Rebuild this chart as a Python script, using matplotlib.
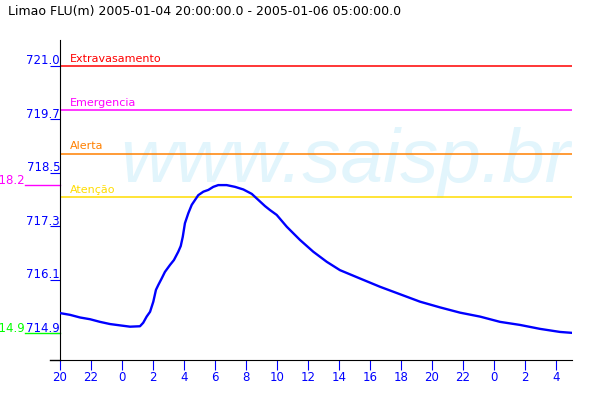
import matplotlib
matplotlib.use('Agg')
import matplotlib.pyplot as plt
from matplotlib.lines import Line2D

plt.rcParams['font.family'] = ['DejaVu Sans']

titulo = 'Limao FLU(m) 2005-01-04 20:00:00.0 - 2005-01-06 05:00:00.0'

# horas desde 2005-01-04 20:00 e nivel (m)
horas = [0.00, 0.65, 1.29, 1.94, 2.58, 3.23, 3.87, 4.52, 5.16, 5.37, 5.59, 5.81,
         6.02, 6.19, 6.34, 6.56, 6.77, 7.10, 7.35, 7.63, 7.79, 7.92, 8.06, 8.28,
         8.50, 8.71, 8.92, 9.25, 9.57, 9.89, 10.21, 10.75, 11.29, 11.83, 12.37,
         12.80, 13.23, 13.55, 13.98, 14.63, 15.48, 16.34, 17.21, 18.06, 19.35,
         20.65, 21.94, 23.23, 24.52, 25.81, 27.10, 28.39, 29.68, 30.97, 32.26, 33.0]
nivel = [715.36, 715.32, 715.26, 715.22, 715.16, 715.11, 715.08, 715.05, 715.06,
         715.14, 715.28, 715.39, 715.62, 715.89, 716.00, 716.15, 716.30, 716.46,
         716.57, 716.76, 716.89, 717.10, 717.41, 717.64, 717.83, 717.94, 718.05,
         718.13, 718.17, 718.24, 718.28, 718.28, 718.24, 718.18, 718.08, 717.94,
         717.80, 717.71, 717.60, 717.33, 717.03, 716.76, 716.53, 716.34, 716.15,
         715.96, 715.79, 715.62, 715.49, 715.37, 715.28, 715.16, 715.09, 715.00,
         714.93, 714.91]

# cotas de referencia
cotas_nome = ['Extravasamento', 'Emergencia', 'Alerta', 'Atenção']
cotas_valor = [721.0, 720.0, 719.0, 718.0]
cotas_cor = ['#ff0000', '#ff00ff', '#ff8000', '#ffdd00']

yticks = [714.9, 716.12, 717.34, 718.56, 719.78, 721.0]
ytick_labels = ['714.9', '716.1', '717.3', '718.5', '719.7', '721.0']
xticks = list(range(0, 33, 2))
xtick_labels = ['20', '22', '0', '2', '4', '6', '8', '10', '12', '14', '16',
                '18', '20', '22', '0', '2', '4']

max_label = '718.2'
min_label = '714.9'

azul = '#0000ff'

fig = plt.figure(figsize=(6, 4), dpi=100)
ax = fig.add_axes([60 / 600, 40 / 400, 511.5 / 600, 320 / 400])
ax.set_xlim(0, 33)
ax.set_ylim(714.29, 721.59)

# marca d'agua
ax.text(3.87, 718.35, 'www.saisp.br', family='Liberation Sans', style='italic',
        fontsize=55, color='#e2f5fc', ha='left', va='baseline', clip_on=True, zorder=0)

for nome, v, c in zip(cotas_nome, cotas_valor, cotas_cor):
    ax.axhline(v, color=c, lw=1.1, zorder=1)
    ax.annotate(nome, (0.65, v), xytext=(0, 3), textcoords='offset points',
                color=c, fontsize=8, va='baseline', ha='left')

ax.plot(horas, nivel, color=azul, lw=1.7, zorder=3)

for s in ['top', 'right']:
    ax.spines[s].set_visible(False)
ax.spines['left'].set_color('black')
ax.spines['bottom'].set_color('black')

ax.set_xticks(xticks)
ax.set_xticklabels(xtick_labels)
ax.tick_params(axis='x', direction='out', length=7.2, color=azul, labelcolor=azul,
               labelsize=8.5, pad=1)
ax.set_yticks(yticks)
ax.set_yticklabels([])
ax.tick_params(axis='y', direction='out', length=7.2, color=azul)

ytr = ax.get_yaxis_transform()
for v, lab in zip(yticks, ytick_labels):
    ax.annotate(lab, (0, v), xycoords=ytr, xytext=(0, 1), textcoords='offset points',
                color=azul, fontsize=8.5, ha='right', va='baseline', annotation_clip=False)

# extensao do eixo x para a esquerda
ax.add_line(Line2D([-10 / 511.5, 0], [0, 0], transform=ax.transAxes, color='black',
                   lw=1, clip_on=False))

# maximo e minimo
xm = -35 / 511.5
vmax = max(nivel)
ax.add_line(Line2D([xm, 0], [vmax, vmax], transform=ytr, color='#ff00ff', lw=1, clip_on=False))
ax.annotate(max_label, (xm, vmax), xycoords=ytr, xytext=(0, 1), textcoords='offset points',
            color='#ff00ff', fontsize=8.5, ha='right', va='baseline', annotation_clip=False)
ax.add_line(Line2D([xm, 0], [yticks[0], yticks[0]], transform=ytr, color='#00ff00', lw=1,
                   clip_on=False))
ax.annotate(min_label, (xm, yticks[0]), xycoords=ytr, xytext=(0, 1), textcoords='offset points',
            color='#00ff00', fontsize=8.5, ha='right', va='baseline', annotation_clip=False)

fig.text(8 / 600, 1 - 12 / 400, titulo, fontsize=9, va='center', ha='left')

fig.savefig('out.png', dpi=100)
